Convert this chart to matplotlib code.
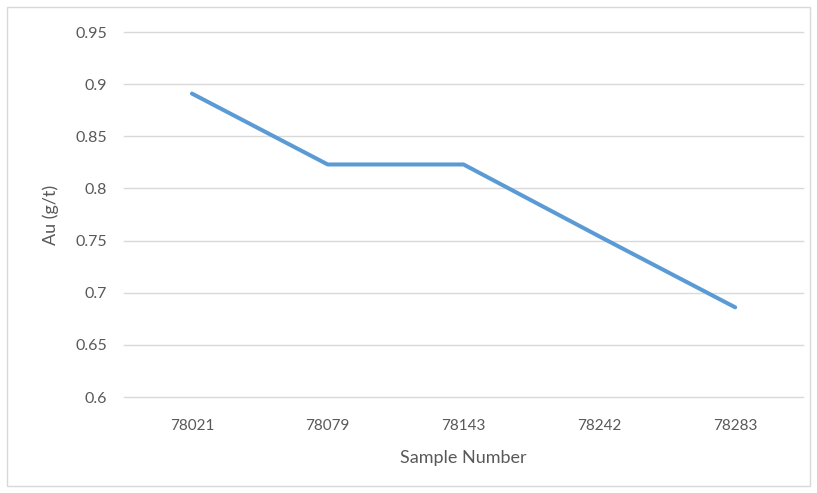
import matplotlib.pyplot as plt
from matplotlib.patches import Rectangle

samples = ['78021', '78079', '78143', '78242', '78283']
au = [0.891, 0.823, 0.823, 0.754, 0.686]
yticks = [0.6, 0.65, 0.7, 0.75, 0.8, 0.85, 0.9, 0.95]
ytick_labels = ['0.6', '0.65', '0.7', '0.75', '0.8', '0.85', '0.9', '0.95']

plt.rcParams['font.family'] = ['Lato', 'DejaVu Sans']
txt = '#595959'
grid = '#D9D9D9'

fig = plt.figure(figsize=(8.17, 4.93), dpi=100)
ax = fig.add_axes([0.1518, 0.1947, 0.8312, 0.7403])

x = list(range(len(samples)))
ax.plot(x, au, color='#5B9BD5', linewidth=2.9, solid_capstyle='round', solid_joinstyle='round', zorder=3)

ax.set_xlim(-0.5, len(samples) - 0.5)
ax.set_ylim(0.6, 0.95)
ax.set_yticks(yticks)
ax.set_yticklabels(ytick_labels)
ax.set_xticks(x)
ax.set_xticklabels(samples)
ax.grid(axis='y', color=grid, linewidth=1.0)
for gl in ax.get_ygridlines():
    gl.set_clip_on(False)
ax.set_axisbelow(True)
for s in ax.spines.values():
    s.set_visible(False)
ax.tick_params(length=0, colors=txt)
ax.tick_params(axis='y', labelsize=11.5, pad=12)
ax.tick_params(axis='x', labelsize=11, pad=16)

ax.set_xlabel('Sample Number', fontsize=13, color=txt, labelpad=12)
ax.set_ylabel('Au (g/t)', fontsize=13, color=txt, labelpad=12)

fig.patches.append(Rectangle((7 / 817, 7 / 493), 803 / 817, 479 / 493, transform=fig.transFigure,
                             fill=False, edgecolor=grid, linewidth=1.0))

fig.savefig('out.png', dpi=100)
